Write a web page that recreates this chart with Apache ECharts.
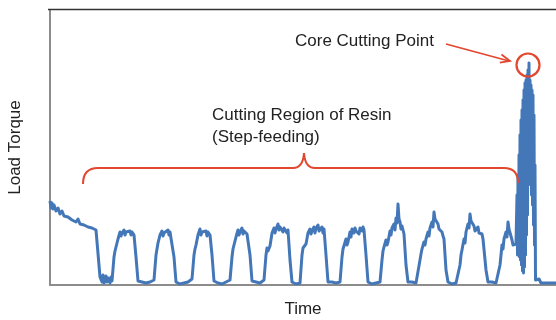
<!DOCTYPE html>
<html>
<head>
<meta charset="utf-8">
<script src="https://cdn.jsdelivr.net/npm/echarts@6/dist/echarts.min.js"></script>
<style>
html,body{margin:0;padding:0;background:#fff;}
#chart{width:556px;height:320px;}
</style>
</head>
<body>
<div id="chart"></div>
<script>
// Load torque readings [time, torque] (arbitrary units)
var descentSegment = [[0,84],[1,77],[2,82],[3,76],[4,80],[6,74],[8,77],[10,71],[12,74],[14,69],[16,71],[18,68],[20,69],[22,65],[24,67],[26,63],[28,66],[30,61],[32,63],[34,60],[36,62],[38,58],[40,60],[42,57],[44,59],[46,55],[48,56],[50,8]];

var pulseSegment = [
  [52,3],[53,10],[54,2],[56,9],[57,3],[58,7],[60,2],[61,8],[62,4],
  [64,28],[65,34],[66,33],[68,46],[70,53],[71,49],[72,52],[74,55],[75,50],[76,53],[78,51],[80,54],[81,50],[82,53],[84,50],[86,28],[88,4],
  [90,2],[92,3],[94,1],[96,2],[98,2],[100,3],[102,2],
  [104,5],[106,30],[107,36],[108,42],[110,50],[112,54],[113,49],[114,52],[116,50],[118,55],[119,50],[120,53],[122,51],[124,28],[126,3],
  [128,2],[130,1],[132,3],[134,2],[136,2],[138,3],[140,2],
  [142,6],[144,30],[145,36],[146,40],[148,50],[150,56],[151,50],[152,53],[154,51],[156,54],[157,49],[158,53],[160,50],[162,30],[164,4],
  [166,2],[168,2],[170,3],[172,1],[174,2],[176,3],[178,2],
  [180,5],[182,28],[183,36],[184,38],[186,48],[188,55],[189,50],[190,53],[192,57],[193,51],[194,54],[196,56],[197,51],[198,52],[200,30],[202,4],
  [204,2],[206,3],[208,1],[210,2],[212,3],
  [214,5],[216,30],[217,37],[218,34],[220,39],[222,52],[224,57],[225,52],[226,56],[228,61],[229,55],[230,58],[232,59],[233,53],[234,57],[236,57],[237,52],[238,55],[240,25],[242,3],
  [244,2],[246,1],[248,3],[250,2],
  [252,30],[253,37],[254,35],[256,41],[258,52],[260,56],[261,51],[262,54],[264,58],[265,52],[266,57],[268,60],[269,54],[270,56],[272,58],[273,52],[274,56],[276,30],[278,3],
  [280,2],[282,3],[284,1],[286,2],[288,2],[290,3],
  [292,28],[293,36],[294,38],[296,46],[297,40],[298,43],[300,53],[301,48],[302,56],[304,52],[305,57],[306,54],[308,56],[309,51],[310,57],[312,54],[313,58],[314,55],[316,30],[318,3],
  [320,2],[322,1],[324,3],[326,2],[328,2],[330,3],
  [332,25],[333,34],[334,38],[336,45],[337,40],[338,43],[340,54],[341,50],[342,57],[344,61],[345,55],[346,67],[347,62],[348,81],[349,66],[350,63],[351,56],[352,59],[354,51],[356,20],[358,3],
  [360,2],[362,3],[364,1],[366,2],[368,2],
  [370,25],[371,31],[372,36],[374,43],[375,40],[376,46],[378,53],[379,49],[380,57],[382,63],[383,58],[384,73],[385,66],[386,66],[388,61],[389,56],[390,57],[392,53],[393,49],[394,46],[396,15],[398,3],
  [400,2],[402,1],[404,3],[406,2],[408,2],
  [410,20],[411,30],[412,35],[414,46],[415,42],[416,53],[418,61],[419,57],[420,71],[421,64],[422,63],[424,59],[425,54],[426,56],[428,58],[429,52],[430,53],[432,51],[433,46],[434,46],[436,15],[438,3],
  [440,2],[442,3],[444,1],[446,2],[448,2]
];

var spikeSegment = [
  [450,20],[452,40],[453,36],[454,46],[456,53],[457,48],[458,63],[459,56],[460,56],[462,45],[463,40],[464,38],[466,41],
  [467,90],[467.5,30],[468,110],[468.5,35],[469,130],[469.5,28],[470,150],[470.5,25],[471,165],[471.5,20],
  [472,175],[472.5,14],[473,185],[473.5,12],[474,195],[474.5,18],[475,202],[475.5,30],[476,205],[476.5,50],
  [477,210],[477.5,70],[478,215],[478.5,100],[479,222],[479.5,120],[480,205],[480.5,110],[481,200],[481.5,90],
  [482,195],[482.5,80],[483,190],[483.5,60],[484,170],[484.5,40],[485,120],[485.5,5],
  [487,3],[489,6],[491,2],[493,4],[495,2],[497,3],[499,2],[501,4],[503,2],[505,3],[506,2]
];

var corePoint = [479, 222];

var labels = {
  xName: 'Time',
  yName: 'Load Torque',
  core: 'Core Cutting Point',
  region1: 'Cutting Region of Resin',
  region2: '(Step-feeding)'
};

var seriesData = descentSegment.concat(pulseSegment, spikeSegment);

var chart = echarts.init(document.getElementById('chart'), null, {renderer: 'canvas'});
var RED = '#e2472f';
var FONT = '"Liberation Sans", Arial, Helvetica, sans-serif';

chart.setOption({
  animation: false,
  backgroundColor: '#ffffff',
  grid: {left: 50, right: 0, top: 10, bottom: 35, containLabel: false, outerBoundsMode: 'none'},
  xAxis: {
    type: 'value', min: 0, max: 506,
    axisLine: {show: true, lineStyle: {color: '#8c8c8c', width: 2}},
    axisTick: {show: false}, axisLabel: {show: false}, splitLine: {show: false},
    name: labels.xName, nameLocation: 'middle', nameGap: 16,
    nameTextStyle: {fontSize: 17, color: '#222', fontFamily: FONT}
  },
  yAxis: {
    type: 'value', min: 0, max: 275,
    axisLine: {show: true, lineStyle: {color: '#8c8c8c', width: 2}},
    axisTick: {show: false}, axisLabel: {show: false}, splitLine: {show: false},
    name: labels.yName, nameLocation: 'middle', nameGap: 26, nameRotate: 90,
    nameTextStyle: {fontSize: 17, color: '#222', fontFamily: FONT}
  },
  series: [{
    type: 'line',
    data: seriesData,
    showSymbol: false,
    symbol: 'none',
    sampling: null,
    lineStyle: {color: '#4477b8', width: 3, join: 'round'},
    z: 3
  }]
});

var peak = chart.convertToPixel({xAxisIndex: 0, yAxisIndex: 0}, corePoint);
var redLine = {stroke: RED, lineWidth: 2, fill: null};

chart.setOption({
  graphic: [
    {type: 'line', shape: {x1: 48, y1: 9.5, x2: 556, y2: 9.5}, style: {stroke: '#333', lineWidth: 1.5}, z: 10},
    {type: 'text', x: 295, y: 41, style: {text: labels.core, font: '17px ' + FONT, fill: '#222', verticalAlign: 'middle'}, z: 10},
    {type: 'text', x: 212, y: 115, style: {text: labels.region1, font: '17px ' + FONT, fill: '#222', verticalAlign: 'middle'}, z: 10},
    {type: 'text', x: 212, y: 137, style: {text: labels.region2, font: '17px ' + FONT, fill: '#222', verticalAlign: 'middle'}, z: 10},
    {type: 'line', shape: {x1: 446, y1: 44, x2: 509, y2: 61}, style: {stroke: RED, lineWidth: 1.8}, z: 10},
    {type: 'polyline', shape: {points: [[501.5, 54.5], [510, 61], [499.8, 62.6]]}, style: {stroke: RED, lineWidth: 1.8, fill: null}, z: 10},
    {type: 'circle', shape: {cx: peak[0] - 1, cy: peak[1] + 2, r: 11.5}, style: {stroke: RED, lineWidth: 2.2, fill: null}, z: 10},
    {type: 'bezierCurve', shape: {x1: 83, y1: 184, cpx1: 83, cpy1: 168, x2: 98, y2: 168}, style: redLine, z: 10},
    {type: 'line', shape: {x1: 98, y1: 168, x2: 293, y2: 168}, style: redLine, z: 10},
    {type: 'bezierCurve', shape: {x1: 293, y1: 168, cpx1: 303, cpy1: 168, x2: 304, y2: 153}, style: redLine, z: 10},
    {type: 'bezierCurve', shape: {x1: 304, y1: 153, cpx1: 305, cpy1: 168, x2: 315, y2: 168}, style: redLine, z: 10},
    {type: 'line', shape: {x1: 315, y1: 168, x2: 504, y2: 168}, style: redLine, z: 10},
    {type: 'bezierCurve', shape: {x1: 504, y1: 168, cpx1: 518, cpy1: 168, x2: 518, y2: 183}, style: redLine, z: 10}
  ]
});
</script>
</body>
</html>
